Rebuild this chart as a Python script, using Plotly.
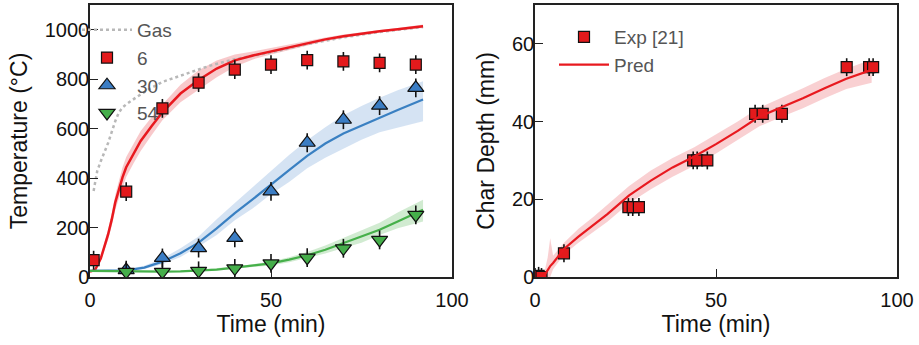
import plotly.graph_objects as go

# ---------------- Temperature panel ----------------
t_exp = [1, 10, 20, 30, 40, 50, 60, 70, 80, 90]
temp_6 = [68, 345, 682, 786, 839, 859, 877, 872, 866, 859]
t_exp_30 = [10, 20, 30, 40, 50, 60, 70, 80, 90]
temp_30 = [28, 77, 117, 158, 346, 543, 636, 693, 765]
temp_54 = [21, 21, 25, 35, 55, 78, 116, 150, 251]
temp_err = 38

t_gas = [1, 2, 3, 5, 7, 8, 9, 10, 13, 16, 20, 26, 33, 40, 50, 60, 70, 80, 92]
temp_gas = [348, 429, 469, 542, 631, 666, 686, 698, 729, 757, 789, 819, 854, 881, 908, 942,
            969, 991, 1011]

t_pred = [0, 1.4, 3, 4, 5, 6, 7, 8, 9, 10, 12, 14, 17, 20, 25, 30, 35, 40, 45,
          50, 55, 60, 65, 70, 75, 80, 85, 92]
pred_6 = [22, 28, 76, 121, 172, 232, 303, 353, 404, 444, 500, 550, 610, 666, 742, 797, 843,
          876, 896, 913, 929, 947, 961, 974, 985, 994, 1002, 1014]
band_6_hi = [22, 30, 86, 136, 192, 257, 333, 389, 444, 485, 540, 590, 646, 698, 777, 836, 876,
             900, 912, 926, 941, 957, 969, 981, 991, 999, 1007, 1021]
band_6_lo = [22, 26, 66, 106, 151, 207, 272, 318, 363, 404, 459, 510, 573, 634, 707, 759, 808,
             850, 880, 900, 918, 937, 953, 967, 979, 989, 997, 1007]

t_pred_b = [0, 5, 10, 15, 20, 25, 30, 35, 40, 45, 50, 55, 60, 65, 70, 75, 80, 85, 92]
pred_30 = [25, 25, 27, 38, 62, 96, 139, 197, 258, 315, 372, 432, 490, 540, 580, 612, 645, 675, 718]
band_30_hi = [25, 25, 30, 45, 75, 116, 164, 234, 299, 364, 430, 493, 553, 606, 654, 692, 725,
              755, 792]
band_30_lo = [25, 25, 24, 32, 52, 81, 123, 170, 230, 278, 336, 384, 440, 482, 520, 555, 585,
              605, 630]

pred_54 = [25, 24, 23, 22, 22, 23, 25, 30, 38, 46, 55, 70, 88, 110, 136, 162, 191, 224, 272]
band_54_hi = [27, 26, 25, 24, 24, 25, 28, 34, 43, 52, 63, 80, 101, 127, 157, 187, 219, 261, 312]
band_54_lo = [23, 22, 21, 20, 20, 21, 22, 26, 33, 40, 47, 60, 76, 95, 117, 139, 170, 197, 224]

# ---------------- Char depth panel ----------------
t_char = [0, 1, 1.8, 8, 25.8, 27, 28.7, 43.7, 44.8, 47.6, 60.8, 62.9, 68.2, 86.1, 92.3, 93.4]
depth_char = [0, 0.3, 0, 6.1, 18, 18, 18, 30, 30, 30, 42, 42, 42, 54, 54, 54]
depth_err = 2.3

t_char_pred = [2.3, 3.5, 4.2, 5, 8, 12, 16, 20, 26, 32, 38, 44, 50, 56, 62, 68, 74, 80, 86, 93]
depth_pred = [0, 1.8, 2.8, 3.6, 7.2, 10.4, 13.2, 16.2, 21, 24.8, 28.2, 31, 34.2, 37.6, 41.3,
              43.6, 46, 48.6, 51, 53.3]
depth_hi = [0, 5, 10, 5.5, 8.8, 12.4, 15.4, 18.6, 23.4, 27.4, 30.6, 33.4, 36.6, 40, 43.6,
            46, 48.6, 51.2, 53.6, 56]
depth_lo = [0, 0, 0, 2, 5.8, 8.8, 11.4, 14.2, 19, 22.6, 25.8, 28.6, 31.8, 35.2, 38.8,
            41.2, 43.4, 46, 48.4, 50]

RED, RED_LINE = "#e31a1c", "#e8191f"
BLUE, BLUE_LINE = "#3b7dc4", "#3a80c2"
GREEN, GREEN_LINE = "#45ae4a", "#46b04a"
FONT = "Liberation Sans, Arial, sans-serif"

fig = go.Figure()


def band(x, lo, hi, color, xa="x", ya="y"):
    fig.add_trace(go.Scatter(x=x, y=lo, mode="lines", line=dict(width=0), showlegend=False,
                             hoverinfo="skip", xaxis=xa, yaxis=ya))
    fig.add_trace(go.Scatter(x=x, y=hi, mode="lines", line=dict(width=0), fill="tonexty",
                             fillcolor=color, showlegend=False, hoverinfo="skip",
                             xaxis=xa, yaxis=ya))


# prediction bands
band(t_pred, band_6_lo, band_6_hi, "rgba(238,120,125,0.40)")
band(t_pred_b, band_30_lo, band_30_hi, "rgba(150,185,225,0.40)")
band(t_pred_b, band_54_lo, band_54_hi, "rgba(140,205,140,0.40)")

# gas temperature
fig.add_trace(go.Scatter(x=t_gas, y=temp_gas, mode="lines", name="Gas",
                         line=dict(color="#b8b8b8", width=2.5, dash="dot")))

# predicted curves
fig.add_trace(go.Scatter(x=t_pred, y=pred_6, mode="lines", showlegend=False,
                         line=dict(color=RED_LINE, width=2.5)))
fig.add_trace(go.Scatter(x=t_pred_b, y=pred_30, mode="lines", showlegend=False,
                         line=dict(color=BLUE_LINE, width=2.2)))
fig.add_trace(go.Scatter(x=t_pred_b, y=pred_54, mode="lines", showlegend=False,
                         line=dict(color=GREEN_LINE, width=2.2)))

err = dict(type="constant", value=temp_err, color="#111", thickness=1.6, width=0)
fig.add_trace(go.Scatter(x=t_exp, y=temp_6, mode="markers", name="6", error_y=err,
                         marker=dict(symbol="square", size=11, color=RED,
                                     line=dict(color="#111", width=1.2))))
fig.add_trace(go.Scatter(x=t_exp_30, y=temp_30, mode="markers", name="30", error_y=err,
                         marker=dict(symbol="triangle-up", size=14, color=BLUE,
                                     line=dict(color="#111", width=1.2))))
fig.add_trace(go.Scatter(x=t_exp_30, y=temp_54, mode="markers", name="54", error_y=err,
                         marker=dict(symbol="triangle-down", size=14, color=GREEN,
                                     line=dict(color="#111", width=1.2))))

# char depth panel
band(t_char_pred, depth_lo, depth_hi, "rgba(238,120,125,0.35)", "x2", "y2")
fig.add_trace(go.Scatter(x=t_char, y=depth_char, mode="markers", name="Exp [21]",
                         xaxis="x2", yaxis="y2", legend="legend2",
                         error_y=dict(type="constant", value=depth_err, color="#111",
                                      thickness=1.6, width=0),
                         marker=dict(symbol="square", size=11, color=RED,
                                     line=dict(color="#111", width=1.2))))
fig.add_trace(go.Scatter(x=t_char_pred, y=depth_pred, mode="lines", name="Pred",
                         xaxis="x2", yaxis="y2", legend="legend2",
                         line=dict(color=RED_LINE, width=2.2)))

axis_common = dict(showline=True, mirror=True, linecolor="#222", linewidth=1.5,
                   ticks="inside", ticklen=8, tickwidth=1.3, tickcolor="#222",
                   showgrid=False, zeroline=False, automargin=False,
                   tickfont=dict(size=20, color="#111", family=FONT),
                   title_font=dict(size=23, color="#111", family=FONT))
x_common = dict(range=[0, 100], tickvals=[0, 50, 100], ticklabelstandoff=4,
                title=dict(text="Time (min)", standoff=2), **axis_common)
y_dom = [1 - 277 / 345, 1 - 5 / 345]

legend_common = dict(xanchor="left", yanchor="top", bgcolor="rgba(0,0,0,0)",
                     itemwidth=50, traceorder="normal", tracegroupgap=0,
                     font=dict(size=19, color="#555", family=FONT))

fig.update_layout(
    width=919, height=345,
    margin=dict(l=0, r=0, t=0, b=0),
    paper_bgcolor="white", plot_bgcolor="white",
    font=dict(family=FONT),
    xaxis=dict(domain=[90 / 919, 452 / 919], anchor="y", **x_common),
    yaxis=dict(domain=y_dom, range=[0, 1100], tickvals=[0, 200, 400, 600, 800, 1000],
               ticklabelstandoff=-5, title=dict(text="Temperature (°C)", standoff=11),
               anchor="x", **axis_common),
    xaxis2=dict(domain=[535 / 919, 897 / 919], anchor="y2", **x_common),
    yaxis2=dict(domain=y_dom, range=[0, 70], tickvals=[0, 20, 40, 60],
                ticklabelstandoff=-5, title=dict(text="Char Depth (mm)", standoff=11),
                anchor="x2", **axis_common),
    legend=dict(x=77 / 919, y=1 - 11 / 345, **legend_common),
    legend2=dict(x=554 / 919, y=1 - 18 / 345, **legend_common),
)

fig.write_html("out.html")
